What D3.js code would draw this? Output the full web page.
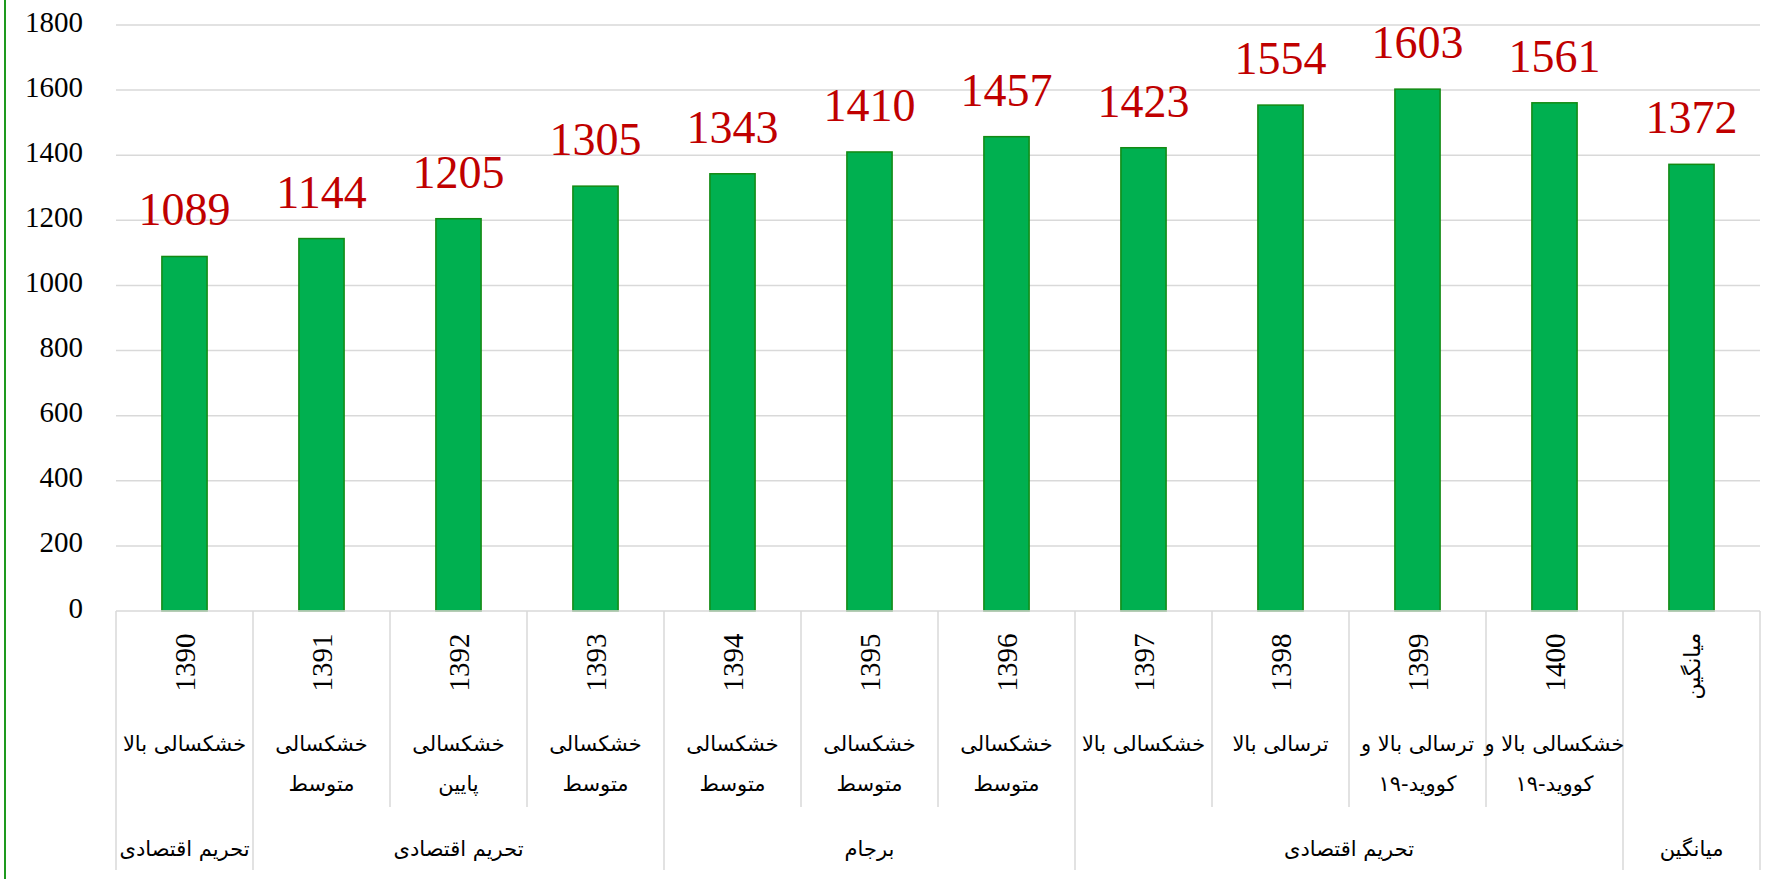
<!DOCTYPE html>
<html>
<head>
<meta charset="utf-8">
<script src="https://cdn.jsdelivr.net/npm/d3@7"></script>
<style>
  html, body { margin: 0; padding: 0; background: #fff; }
  svg { display: block; }
</style>
</head>
<body>
<svg id="chart" width="1785" height="879"></svg>
<script>
// ---- data ----
const years = ["1390","1391","1392","1393","1394","1395","1396","1397","1398","1399","1400","میانگین"];
const values = [1089, 1144, 1205, 1305, 1343, 1410, 1457, 1423, 1554, 1603, 1561, 1372];
const descLine1 = ["خشکسالی بالا","خشکسالی","خشکسالی","خشکسالی","خشکسالی","خشکسالی","خشکسالی","خشکسالی بالا","ترسالی بالا","ترسالی بالا و","خشکسالی بالا و",""];
const descLine2 = ["","متوسط","پایین","متوسط","متوسط","متوسط","متوسط","","","کووید-۱۹","کووید-۱۹",""];
const groupNames = ["تحریم اقتصادی","تحریم اقتصادی","برجام","تحریم اقتصادی","میانگین"];
const groupSizes = [1, 3, 3, 4, 1];
const yTicks = [0, 200, 400, 600, 800, 1000, 1200, 1400, 1600, 1800];

// ---- layout ----
const svg = d3.select("#chart");
const plotLeft = 116, plotRight = 1760, plotTop = 25, plotBase = 611;
const row1Bottom = 807, row2Bottom = 870;

const idx = d3.range(years.length);
const xCell = d3.scaleBand().domain(idx).range([plotLeft, plotRight]).padding(0);
const xBar = d3.scaleBand().domain(idx).range([plotLeft, plotRight]).paddingInner(0.67).paddingOuter(0.335);
const y = d3.scaleLinear().domain([0, 1800]).range([plotBase, plotTop]);

const serif = "'Liberation Serif', 'Times New Roman', serif";
const sans = "'DejaVu Sans', sans-serif";

// left green border
svg.append("line").attr("x1", 5).attr("x2", 5).attr("y1", 0).attr("y2", 879)
  .attr("stroke", "#1e9a1e").attr("stroke-width", 2);

// gridlines
svg.append("g").selectAll("line").data(yTicks.filter(d => d > 0)).join("line")
  .attr("x1", plotLeft).attr("x2", plotRight)
  .attr("y1", d => y(d)).attr("y2", d => y(d))
  .attr("stroke", "#d9d9d9").attr("stroke-width", 1.5);

// y axis labels
const yAxis = d3.axisLeft(y).tickValues(yTicks).tickSize(0).tickPadding(0).tickFormat(d3.format("d"));
const yg = svg.append("g").attr("transform", `translate(${83},0)`).call(yAxis);
yg.attr("font-family", null).attr("font-size", null);
yg.select(".domain").remove();
yg.selectAll("text")
  .style("font-family", serif).style("font-size", "29px").attr("fill", "#000")
  .attr("dy", null).attr("x", 0).attr("y", 6).attr("text-anchor", "end");

// bars
svg.append("g").selectAll("rect").data(idx).join("rect")
  .attr("x", i => xBar(i)).attr("width", xBar.bandwidth())
  .attr("y", i => y(values[i])).attr("height", i => plotBase - y(values[i]))
  .attr("fill", "#00B050").attr("stroke", "#138a13").attr("stroke-width", 1.5);

// data labels
svg.append("g").selectAll("text").data(idx).join("text")
  .attr("x", i => xBar(i) + xBar.bandwidth() / 2)
  .attr("y", i => y(values[i]) - 31)
  .attr("text-anchor", "middle")
  .style("font-family", serif).style("font-size", "46px").attr("fill", "#C00000")
  .text(i => values[i]);

// baseline axis line
svg.append("line").attr("x1", plotLeft).attr("x2", plotRight).attr("y1", plotBase).attr("y2", plotBase)
  .attr("stroke", "#d9d9d9").attr("stroke-width", 1.5);

// category separators
const groupBounds = [0];
groupSizes.forEach(s => groupBounds.push(groupBounds[groupBounds.length - 1] + s));
const bounds = d3.range(years.length + 1);
svg.append("g").selectAll("line").data(bounds).join("line")
  .attr("x1", b => plotLeft + b * xCell.step()).attr("x2", b => plotLeft + b * xCell.step())
  .attr("y1", plotBase).attr("y2", b => groupBounds.includes(b) ? row2Bottom : row1Bottom)
  .attr("stroke", "#d9d9d9").attr("stroke-width", 1.5);

// year labels (rotated)
const last = years.length - 1;
svg.append("g").selectAll("text").data(idx).join("text")
  .attr("transform", i => `translate(${xCell(i) + xCell.bandwidth() / 2 + (i === last ? 8 : 10)},${i === last ? 666 : 662.5}) rotate(-90)`)
  .attr("text-anchor", "middle")
  .style("font-family", i => i === last ? sans : serif)
  .style("font-size", i => i === last ? "22px" : "29px")
  .attr("fill", "#000")
  .text(i => years[i]);

// description labels
svg.append("g").selectAll("text").data(idx).join("text")
  .attr("x", i => xCell(i) + xCell.bandwidth() / 2).attr("y", 751)
  .attr("text-anchor", "middle").attr("direction", "rtl")
  .style("font-family", sans).style("font-size", "21px").attr("fill", "#000")
  .text(i => descLine1[i]);
svg.append("g").selectAll("text").data(idx).join("text")
  .attr("x", i => xCell(i) + xCell.bandwidth() / 2).attr("y", 791)
  .attr("text-anchor", "middle").attr("direction", "rtl")
  .style("font-family", sans).style("font-size", "21px").attr("fill", "#000")
  .text(i => descLine2[i]);

// group labels
svg.append("g").selectAll("text").data(groupNames).join("text")
  .attr("x", (d, g) => plotLeft + (groupBounds[g] + groupBounds[g + 1]) / 2 * xCell.step())
  .attr("y", 856)
  .attr("text-anchor", "middle").attr("direction", "rtl")
  .style("font-family", sans).style("font-size", "21px").attr("fill", "#000")
  .text(d => d);
</script>
</body>
</html>
